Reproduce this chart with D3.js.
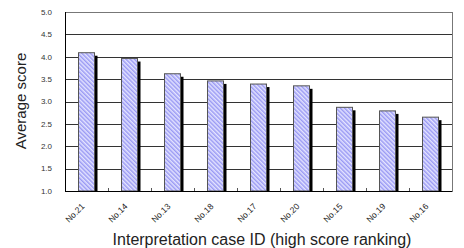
<!DOCTYPE html>
<html>
<head>
<meta charset="utf-8">
<script src="https://cdn.jsdelivr.net/npm/d3@7"></script>
<style>
  body { margin: 0; background: #fff; }
  svg { display: block; font-family: "Liberation Sans", Arial, sans-serif; }
</style>
</head>
<body>
<script>
// chart data
var caseIds = ["No.21", "No.14", "No.13", "No.18", "No.17", "No.20", "No.15", "No.19", "No.16"];
var scores = [4.09, 3.96, 3.62, 3.46, 3.39, 3.35, 2.87, 2.79, 2.65];
var yTicks = [1.0, 1.5, 2.0, 2.5, 3.0, 3.5, 4.0, 4.5, 5.0];

var W = 464, H = 248;
var margin = { top: 12, right: 12, bottom: 57, left: 65 },
    width = W - margin.left - margin.right,
    height = H - margin.top - margin.bottom;

var svg = d3.select("body").append("svg")
    .attr("width", W)
    .attr("height", H);

// hatch pattern for the bars
var defs = svg.append("defs");
var pat = defs.append("pattern")
    .attr("id", "hatch")
    .attr("patternUnits", "userSpaceOnUse")
    .attr("width", 3)
    .attr("height", 3)
    .attr("patternTransform", "rotate(-45)");
pat.append("rect").attr("width", 3).attr("height", 3).attr("fill", "#e4e4ff");
pat.append("rect").attr("width", 1.5).attr("height", 3).attr("fill", "#9a9af4");

var g = svg.append("g")
    .attr("transform", "translate(" + margin.left + "," + margin.top + ")");

var x = d3.scaleBand()
    .domain(caseIds)
    .range([0, width]);

var y = d3.scaleLinear()
    .domain([1, 5])
    .range([height, 0]);

// horizontal grid lines
g.selectAll(".grid")
    .data(yTicks)
    .enter().append("line")
    .attr("class", "grid")
    .attr("x1", 0)
    .attr("x2", width)
    .attr("y1", function (d) { return Math.round(y(d)) + 0.5; })
    .attr("y2", function (d) { return Math.round(y(d)) + 0.5; })
    .attr("stroke", function (d) { return d == 5 ? "#888" : "#333"; })
    .attr("stroke-width", 1);

// plot border
g.append("rect")
    .attr("x", 0.5)
    .attr("y", Math.round(y(5)) + 0.5)
    .attr("width", width)
    .attr("height", Math.round(y(1)) - Math.round(y(5)))
    .attr("fill", "none")
    .attr("stroke", "#777");

var barW = 16;

// black drop shadow behind each bar
g.selectAll(".shadow")
    .data(scores)
    .enter().append("rect")
    .attr("class", "shadow")
    .attr("x", function (d, i) { return x(caseIds[i]) + x.bandwidth() / 2 - barW / 2 + 3; })
    .attr("y", function (d) { return y(d) + 3; })
    .attr("width", barW)
    .attr("height", function (d) { return y(1) - y(d) - 3; })
    .attr("fill", "#000");

g.selectAll(".bar")
    .data(scores)
    .enter().append("rect")
    .attr("class", "bar")
    .attr("x", function (d, i) { return x(caseIds[i]) + x.bandwidth() / 2 - barW / 2; })
    .attr("y", function (d) { return y(d); })
    .attr("width", barW)
    .attr("height", function (d) { return y(1) - y(d); })
    .attr("fill", "url(#hatch)")
    .attr("stroke", "#555")
    .attr("stroke-width", 1);

// left axis line
g.append("line")
    .attr("x1", 0.5).attr("x2", 0.5)
    .attr("y1", y(5)).attr("y2", y(1))
    .attr("stroke", "#000");

// bottom axis line
g.append("line")
    .attr("x1", 0).attr("x2", width)
    .attr("y1", Math.round(y(1)) + 0.5).attr("y2", Math.round(y(1)) + 0.5)
    .attr("stroke", "#000");

// small inside ticks between categories
g.selectAll(".xtick")
    .data(caseIds.slice(1))
    .enter().append("line")
    .attr("x1", function (d) { return Math.round(x(d)) + 0.5; })
    .attr("x2", function (d) { return Math.round(x(d)) + 0.5; })
    .attr("y1", y(1))
    .attr("y2", y(1) - 3)
    .attr("stroke", "#555");

// y tick labels
g.selectAll(".ylab")
    .data(yTicks)
    .enter().append("text")
    .attr("x", -13)
    .attr("y", function (d) { return y(d); })
    .attr("dy", "0.35em")
    .attr("text-anchor", "end")
    .attr("font-size", "8px")
    .attr("fill", "#333")
    .text(function (d) { return d.toFixed(1); });

// rotated x labels
g.selectAll(".xlab")
    .data(caseIds)
    .enter().append("text")
    .attr("text-anchor", "end")
    .attr("font-size", "8.5px")
    .attr("fill", "#222")
    .attr("transform", function (d) {
        return "translate(" + (x(d) + x.bandwidth() / 2 - 1.5) + "," + (y(1) + 16) + ") rotate(-45)";
    })
    .text(function (d) { return d; });

// axis titles
svg.append("text")
    .attr("x", 262)
    .attr("y", 245)
    .attr("text-anchor", "middle")
    .attr("font-size", "16px")
    .attr("fill", "#222")
    .text("Interpretation case ID (high score ranking)");

svg.append("text")
    .attr("transform", "translate(26,101) rotate(-90)")
    .attr("text-anchor", "middle")
    .attr("font-size", "15px")
    .attr("fill", "#222")
    .text("Average score");
</script>
</body>
</html>
